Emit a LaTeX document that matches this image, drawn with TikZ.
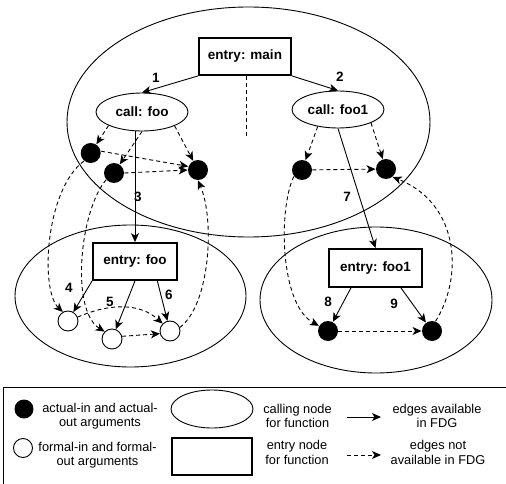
\documentclass[tikz,border=0pt]{standalone}
\usepackage{fontspec}
\setmainfont{Liberation Sans}
\usetikzlibrary{arrows.meta,shapes.geometric,calc}
\begin{document}
\begin{tikzpicture}[x=1pt,y=-1pt,line width=0.9pt,
  lbl/.style={font=\fontsize{13.5}{15}\selectfont\bfseries, inner sep=0pt},
  legtxt/.style={font=\fontsize{12.8}{14.2}\selectfont, align=center, inner sep=0pt},
  entrybox/.style={draw, rectangle, line width=1.8pt, font=\fontsize{13.5}{15}\selectfont\bfseries},
  callnode/.style={draw, ellipse, inner sep=0pt, font=\fontsize{13.5}{15}\selectfont\bfseries},
  region/.style={draw, ellipse, inner sep=0pt},
  act/.style={circle, fill=black, inner sep=0pt, minimum size=20pt},
  form/.style={circle, draw, fill=white, inner sep=0pt, minimum size=20pt},
  sol/.style={-{Stealth[length=9pt,width=8pt,inset=2.5pt]}},
  dsh/.style={dash pattern=on 4pt off 3pt, -{Stealth[length=9pt,width=8pt,inset=2.5pt]}},
  dshline/.style={dash pattern=on 4pt off 3pt}
]
\useasboundingbox (0,0) rectangle (506,484);

% regions
\node[region, minimum width=363pt, minimum height=230pt] (rmain) at (248.5,122) {};
\node[region, minimum width=231pt, minimum height=142pt] (rfoo) at (130.5,296) {};
\node[region, minimum width=232pt, minimum height=146pt] (rfoo1) at (376,300) {};

% main nodes
\node[entrybox, minimum width=92pt, minimum height=37pt] (main) at (245,56.5) {entry: main};
\node[callnode, minimum width=92pt, minimum height=38pt] (cfoo) at (142,112) {call: foo};
\node[callnode, minimum width=92pt, minimum height=37pt] (cfoo1) at (338,109.5) {call: foo1};
\node[act] (A1) at (90.7,153) {};
\node[act] (A2) at (114,173) {};
\node[act] (A3) at (198,170) {};
\node[act] (B1) at (302,170) {};
\node[act] (B2) at (386,169) {};

% callee nodes
\node[entrybox, minimum width=84pt, minimum height=37pt] (efoo) at (135,261.5) {entry: foo};
\node[entrybox, minimum width=93pt, minimum height=38pt] (efoo1) at (375.5,268) {entry: foo1};
\node[form] (F1) at (68,321) {};
\node[form] (F2) at (112,339) {};
\node[form] (F3) at (170,331) {};
\node[act] (C1) at (328,331) {};
\node[act] (C2) at (432,331) {};

% solid edges
\draw[sol] (main.south west) -- (cfoo.north);
\draw[sol] (main.south east) -- (cfoo1.north);
\draw[sol] (cfoo.south -| efoo.north) -- (efoo.north);
\draw[sol] (cfoo1.south) -- (efoo1.north);
\draw[sol] (efoo.south west) -- (F1);
\draw[sol] (efoo.south) -- (F2);
\draw[sol] (efoo.-41) -- (F3);
\draw[sol] (efoo1.219) -- (C1);
\draw[sol] (efoo1.-38) -- (C2);

% dashed line below entry: main
\coordinate (dend) at (246,137);
\draw[dshline] (main.south -| dend) -- (dend);

% dashed edges in main
\draw[dsh] (cfoo.202) -- (A1);
\draw[dsh] (cfoo.south) -- (A2);
\draw[dsh] (cfoo.337) -- (A3);
\draw[dsh] (A1.10) -- (A3.160);
\draw[dsh] (A2.east) -- (A3.west);
\draw[dsh] (cfoo1.220) -- (B1);
\draw[dsh] (cfoo1.338) -- (B2);
\draw[dsh] (B1) -- (B2);

% dashed edges in callees
\draw[dsh] (F1.22) .. controls (110,303) and (140,303) .. (F3.135);
\draw[dsh] (F2.15) -- (F3.195);
\draw[dsh] (C1) -- (C2);

% inter-region dashed edges
\draw[dsh] (A1.230) .. controls (45,190) and (40,290) .. (F1.120);
\draw[dsh] (A2.221) .. controls (80,210) and (70,310) .. (F2.135);
\draw[dsh] (F3.20) .. controls (210,305) and (215,220) .. (A3.south);
\draw[dsh] (B1.218) .. controls (278,210) and (280,305) .. (C1.150);
\draw[dsh] (C2.70) .. controls (462,280) and (462,205) .. (B2.310);

% edge labels
\node[lbl] (l1) at (156,78) {1};
\node[lbl] (l2) at (340,77) {2};
\node[lbl] (l3) at (138,197) {3};
\node[lbl] (l7) at (347,197) {7};
\node[lbl] (l4) at (69,288) {4};
\node[lbl] (l5) at (110,302) {5};
\node[lbl] (l6) at (169,295) {6};
\node[lbl] (l8) at (328,302) {8};
\node[lbl] (l9) at (394,304) {9};

% legend
\draw[line width=1pt] (3,500) -- (3,387) -- (515,387);
\node[act, minimum size=19pt] (lact) at (24,409) {};
\node[form, minimum size=19pt] (lform) at (23,448) {};
\node[legtxt] (tact) at (100,416) {actual-in and actual-\\out arguments};
\node[legtxt] (tform) at (97.5,455.5) {formal-in and formal-\\out arguments};
\node[region, minimum width=82pt, minimum height=38pt] (lcall) at (212,409) {};
\node[draw, rectangle, line width=1.8pt, minimum width=80pt, minimum height=37pt] (lentry) at (212,456.5) {};
\node[legtxt] (tcall) at (297.5,416) {calling node\\for function};
\node[legtxt] (tentry) at (297,452.5) {entry node\\for function};
\coordinate (s1) at (347,417);
\coordinate (s2) at (381,417);
\coordinate (d1) at (347,455);
\coordinate (d2) at (381,455);
\draw[sol] (s1) -- (s2);
\draw[dsh] (d1) -- (d2);
\node[legtxt] (tsol) at (437,416) {edges available\\in FDG};
\node[legtxt] (tdsh) at (438,452.5) {edges not\\available in FDG};
\end{tikzpicture}
\end{document}
